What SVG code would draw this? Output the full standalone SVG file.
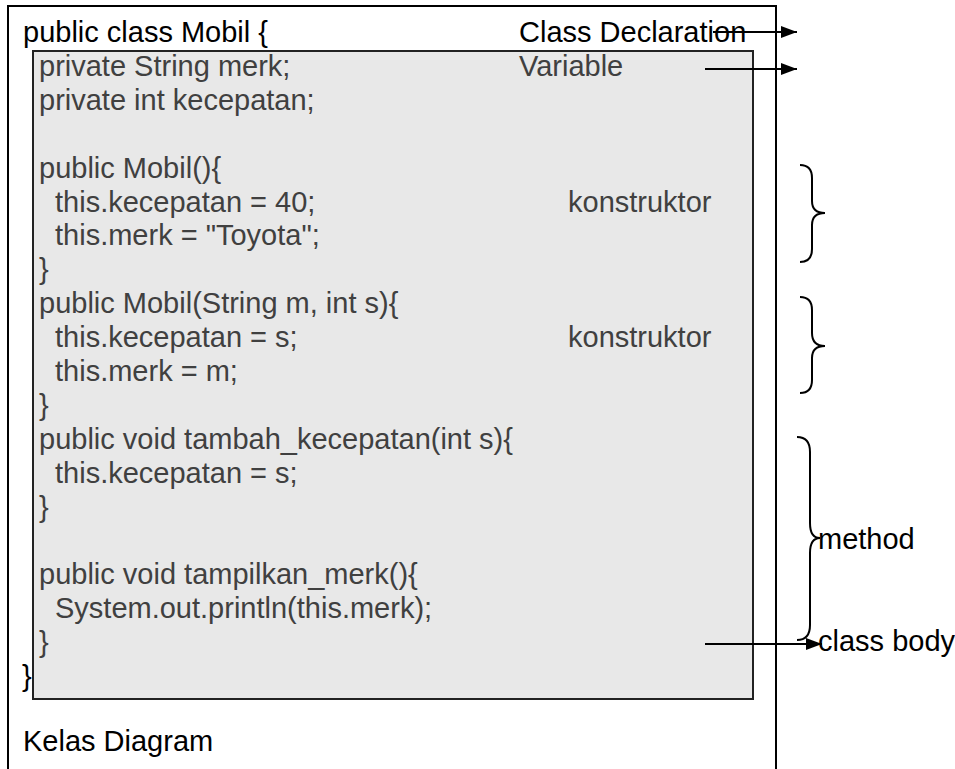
<svg xmlns="http://www.w3.org/2000/svg" width="955" height="769" viewBox="0 0 955 769">
  <style>
    text { font-family: "Liberation Sans", Arial, sans-serif; font-size: 29px; }
    .dark { fill: #000000; }
    .code { fill: #404040; }
    .frame { fill: #ffffff; stroke: #000000; stroke-width: 2; }
    .body { fill: #e8e8e8; stroke: #222222; stroke-width: 2; }
    .conn { fill: none; stroke: #000000; stroke-width: 2; }
    .brace { fill: none; stroke: #000000; stroke-width: 2; }
  </style>
  <defs>
    <marker id="arrow" markerWidth="8" markerHeight="6" refX="8" refY="3" orient="auto" markerUnits="strokeWidth">
      <path d="M0,0 L8,3 L0,6 Z" fill="#000000"/>
    </marker>
  </defs>

  <rect width="955" height="769" fill="#ffffff"/>

  <!-- outer class frame (open at the bottom) -->
  <g id="class-frame">
    <path class="frame" d="M8,780 V6 H776 V780"/>
    <text class="dark" x="23" y="42">public class Mobil {</text>
    <text class="dark" x="519" y="42">Class Declaration</text>
    <text class="dark" x="23" y="751">Kelas Diagram</text>
  </g>

  <!-- class body with members -->
  <g id="class-body">
    <rect class="body" x="33" y="51" width="720" height="648"/>
    <text class="code" x="39" y="76">private String merk;</text>
    <text class="code" x="519" y="76">Variable</text>
    <text class="code" x="39" y="110">private int kecepatan;</text>

    <text class="code" x="39" y="177.6">public Mobil(){</text>
    <text class="code" x="55" y="211.5">this.kecepatan = 40;</text>
    <text class="code" x="568" y="211.5">konstruktor</text>
    <text class="code" x="55" y="245.4">this.merk = "Toyota";</text>
    <text class="code" x="39" y="279.3">}</text>

    <text class="code" x="39" y="313.2">public Mobil(String m, int s){</text>
    <text class="code" x="55" y="347.1">this.kecepatan = s;</text>
    <text class="code" x="568" y="347.1">konstruktor</text>
    <text class="code" x="55" y="381">this.merk = m;</text>
    <text class="code" x="39" y="414.9">}</text>

    <text class="code" x="39" y="448.8">public void tambah_kecepatan(int s){</text>
    <text class="code" x="55" y="482.7">this.kecepatan = s;</text>
    <text class="code" x="39" y="516.6">}</text>

    <text class="code" x="39" y="584.4">public void tampilkan_merk(){</text>
    <text class="code" x="55" y="618.3">System.out.println(this.merk);</text>
    <text class="code" x="39" y="652.2">}</text>
  </g>

  <!-- closing brace of the class, drawn over the body edge -->
  <g id="class-close">
    <text class="dark" x="22" y="686">}</text>
  </g>

  <!-- side labels -->
  <g id="label-method">
    <text class="dark" x="818" y="549">method</text>
  </g>
  <g id="label-class-body">
    <text class="dark" x="818" y="651">class body</text>
  </g>

  <!-- arrows and braces -->
  <g id="connectors">
    <line class="conn" x1="713" y1="32" x2="797" y2="32" marker-end="url(#arrow)"/>
    <line class="conn" x1="705" y1="69" x2="797" y2="69" marker-end="url(#arrow)"/>
    <line class="conn" x1="705" y1="644" x2="822" y2="644" marker-end="url(#arrow)"/>

    <path class="brace" d="M800,165 Q812,165 812,178 V201 Q812,213 825,213 Q812,213 812,225 V249 Q812,262 800,262"/>
    <path class="brace" d="M800,297 Q812,297 812,310 V333 Q812,346 825,346 Q812,346 812,358 V380 Q812,393 800,393"/>
    <path class="brace" d="M797,437 Q810,437 810,452 V523 Q810,538 820,538 Q810,538 810,553 V625 Q810,640 797,640"/>
  </g>
</svg>
